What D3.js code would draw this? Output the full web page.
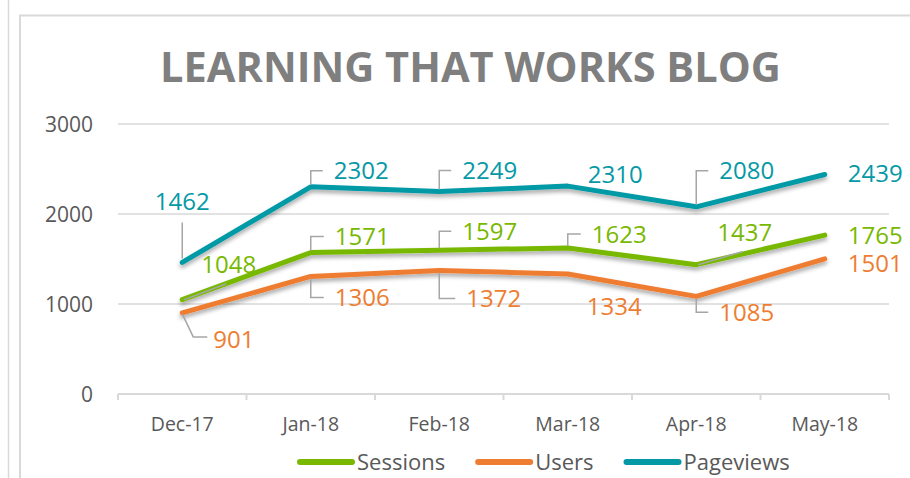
<!DOCTYPE html>
<html>
<head>
<meta charset="utf-8">
<script src="https://cdn.jsdelivr.net/npm/d3@7"></script>
<style>
  body { margin: 0; background: #fff; }
  text { font-family: "Open Sans", sans-serif; }
</style>
</head>
<body>
<script>
const months = ["Dec-17", "Jan-18", "Feb-18", "Mar-18", "Apr-18", "May-18"];
const sessions = [1048, 1571, 1597, 1623, 1437, 1765];
const users = [901, 1306, 1372, 1334, 1085, 1501];
const pageviews = [1462, 2302, 2249, 2310, 2080, 2439];
const yTicks = [0, 1000, 2000, 3000];
const seriesNames = ["Sessions", "Users", "Pageviews"];

const width = 910, height = 478;
const color = d3.scaleOrdinal()
  .domain(seriesNames)
  .range(["#78b800", "#ee7d31", "#0599a6"]);

// where each data label sits relative to its point: [dx, dy, leader type]
const labelPlace = {
  Sessions: [[19, -35, "diag"], [24, -16, "elbow"], [23, -19, "elbow"], [24, -14, "elbow"], [21, -32, "diag"], [23, 0, ""]],
  Users: [[31, 26, "bend"], [24, 21, "elbow"], [27, 28, "elbow"], [19, 32, ""], [23, 16, "elbow"], [23, 4, ""]],
  Pageviews: [[0, -61, "v"], [23, -16, "elbow"], [23, -21, "elbow"], [20, -12, ""], [23, -36, "elbow"], [23, -1, ""]]
};

const series = [
  {name: "Sessions", values: sessions},
  {name: "Users", values: users},
  {name: "Pageviews", values: pageviews}
];

const x = d3.scaleBand()
  .domain(months)
  .range([118, 889]);

const y = d3.scaleLinear()
  .domain([0, 3000])
  .range([394, 124]);

const svg = d3.select("body").append("svg")
  .attr("width", width)
  .attr("height", height);

const defs = svg.append("defs");
const shadow = defs.append("filter")
  .attr("id", "shadow")
  .attr("x", "-10%").attr("y", "-30%")
  .attr("width", "120%").attr("height", "160%");
shadow.append("feDropShadow")
  .attr("dx", 0).attr("dy", 3)
  .attr("stdDeviation", 2)
  .attr("flood-color", "#000")
  .attr("flood-opacity", 0.35);

// outer frames
svg.append("line")
  .attr("x1", 8.5).attr("x2", 8.5)
  .attr("y1", 0).attr("y2", height)
  .attr("stroke", "#d9d9d9").attr("stroke-width", 1.5);
svg.append("path")
  .attr("d", "M20," + height + "V15.5H" + width)
  .attr("fill", "none")
  .attr("stroke", "#d9d9d9").attr("stroke-width", 2);

// title, fitted to the width it has in the picture
const title = svg.append("text")
  .attr("x", 470.5).attr("y", 82)
  .attr("text-anchor", "middle")
  .attr("fill", "#7f7f7f")
  .attr("font-weight", 700)
  .attr("font-size", 42)
  .text("LEARNING THAT WORKS BLOG");
const tw = title.node().getComputedTextLength();
title.attr("font-size", 42 * 621 / tw);

// gridlines
svg.append("g").selectAll("line")
  .data(yTicks.filter(d => d > 0))
  .join("line")
  .attr("x1", x.range()[0]).attr("x2", x.range()[1])
  .attr("y1", d => y(d)).attr("y2", d => y(d))
  .attr("stroke", "#d9d9d9").attr("stroke-width", 1.5);

// y tick labels
svg.append("g").selectAll("text")
  .data(yTicks)
  .join("text")
  .attr("x", 93).attr("y", d => y(d))
  .attr("dy", "0.36em")
  .attr("text-anchor", "end")
  .attr("fill", "#595959")
  .attr("font-size", 21)
  .text(d => d);

// x axis
const xAxis = svg.append("g");
xAxis.append("line")
  .attr("x1", x.range()[0]).attr("x2", x.range()[1])
  .attr("y1", y(0)).attr("y2", y(0))
  .attr("stroke", "#d9d9d9").attr("stroke-width", 2);
xAxis.selectAll(".tick")
  .data(months.map(m => x(m)).concat([x.range()[1]]))
  .join("line")
  .attr("class", "tick")
  .attr("x1", d => d).attr("x2", d => d)
  .attr("y1", y(0)).attr("y2", y(0) + 6)
  .attr("stroke", "#d9d9d9").attr("stroke-width", 2);
xAxis.selectAll("text")
  .data(months)
  .join("text")
  .attr("x", d => x(d) + x.bandwidth() / 2)
  .attr("y", 431)
  .attr("text-anchor", "middle")
  .attr("fill", "#595959")
  .attr("font-size", 19.5)
  .text(d => d);

const px = i => x(months[i]) + x.bandwidth() / 2;

const line = d3.line()
  .x((d, i) => px(i))
  .y(d => y(d));

// series lines
svg.append("g").selectAll("path")
  .data(series)
  .join("path")
  .attr("d", d => line(d.values))
  .attr("fill", "none")
  .attr("stroke", d => color(d.name))
  .attr("stroke-width", 5)
  .attr("stroke-linecap", "round")
  .attr("stroke-linejoin", "round")
  .attr("filter", "url(#shadow)");

// data labels with leader lines
const labels = [];
series.forEach(s => {
  s.values.forEach((v, i) => {
    const [dx, dy, leader] = labelPlace[s.name][i];
    labels.push({name: s.name, value: v, x: px(i), y: y(v), dx, dy, leader});
  });
});

function leaderPath(d) {
  const tx = d.x + d.dx, ty = d.y + d.dy;
  if (d.leader === "elbow") {
    const y0 = d.dy < 0 ? d.y - 2 : d.y + 2;
    return "M" + d.x + "," + y0 + "V" + ty + "H" + (tx - 11);
  }
  if (d.leader === "v") return "M" + d.x + "," + (d.y - 4) + "V" + (ty + 21);
  if (d.leader === "diag") return "M" + (d.x + 2) + "," + d.y + "L" + (tx + 25) + "," + (ty + 19);
  if (d.leader === "bend") return "M" + d.x + "," + (d.y + 1) + "L" + (d.x + 11) + "," + (ty - 2) + "H" + (tx - 6);
  return null;
}

svg.append("g").selectAll("path")
  .data(labels.filter(d => d.leader))
  .join("path")
  .attr("d", leaderPath)
  .attr("fill", "none")
  .attr("stroke", "#a6a6a6")
  .attr("stroke-width", 1.5);

svg.append("g").selectAll("text")
  .data(labels)
  .join("text")
  .attr("x", d => d.x + d.dx)
  .attr("y", d => d.y + d.dy)
  .attr("dy", "0.36em")
  .attr("text-anchor", d => d.leader === "v" ? "middle" : "start")
  .attr("fill", d => color(d.name))
  .attr("font-size", 24)
  .text(d => d.value);

// legend
const legend = svg.append("g");
let lx = 297;
seriesNames.forEach(name => {
  legend.append("line")
    .attr("x1", lx + 3).attr("x2", lx + 55)
    .attr("y1", 462).attr("y2", 462)
    .attr("stroke", color(name))
    .attr("stroke-width", 6)
    .attr("stroke-linecap", "round");
  const t = legend.append("text")
    .attr("x", lx + 60).attr("y", 462)
    .attr("dy", "0.35em")
    .attr("fill", "#595959")
    .attr("font-size", 22)
    .text(name);
  lx += 60 + t.node().getComputedTextLength() + 30;
});
</script>
</body>
</html>
